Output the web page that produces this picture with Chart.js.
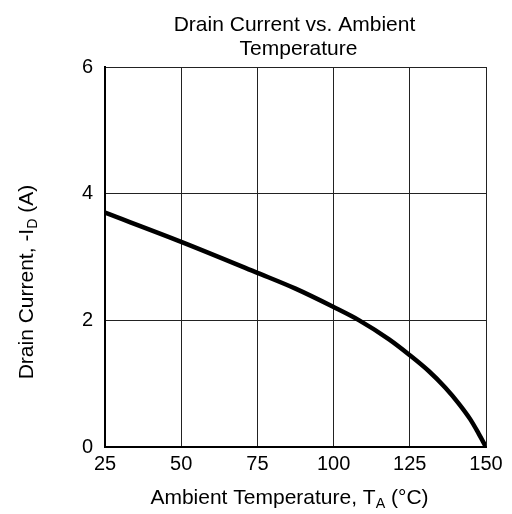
<!DOCTYPE html>
<html>
<head>
<meta charset="utf-8">
<script src="https://cdn.jsdelivr.net/npm/chart.js@4/dist/chart.umd.min.js"></script>
<style>
  html, body { margin: 0; padding: 0; background: #fff; }
  #wrap { width: 512px; height: 514px; }
</style>
</head>
<body>
<div id="wrap"><canvas id="chart" width="512" height="514"></canvas></div>
<script>
const temps = [25, 50, 75, 87.5, 100, 108.4, 118.2, 125, 131.2, 136.6, 141, 144.8, 147.5, 150];
const current = [3.70, 3.24, 2.75, 2.50, 2.21, 2.0, 1.70, 1.45, 1.20, 0.94, 0.69, 0.44, 0.22, 0];
const xTicks = [25, 50, 75, 100, 125, 150];
const yTicks = [0, 2, 4, 6];

const FONT = "'Liberation Sans', Arial, Helvetica, sans-serif";

// draws text made of pieces, some of them subscript
function drawRich(ctx, parts, size) {
    let total = 0;
    parts.forEach(p => {
        ctx.font = (p.sub ? size * 0.68 : size) + 'px ' + FONT;
        p.w = ctx.measureText(p.t).width;
        total += p.w;
    });
    let x = -total / 2;
    parts.forEach(p => {
        ctx.font = (p.sub ? size * 0.68 : size) + 'px ' + FONT;
        ctx.fillText(p.t, x, p.sub ? size * 0.18 : 0);
        x += p.w;
    });
}

const labelsPlugin = {
    id: 'labels',
    afterDraw(chart) {
        const ctx = chart.ctx;
        const area = chart.chartArea;
        const cx = (area.left + area.right) / 2;
        ctx.save();
        ctx.fillStyle = '#000';
        ctx.textAlign = 'left';
        ctx.textBaseline = 'alphabetic';

        // title
        ctx.save();
        ctx.translate(cx - 1, 31);
        drawRich(ctx, [{ t: 'Drain Current vs. Ambient' }], 21);
        ctx.restore();
        ctx.save();
        ctx.translate(cx + 3, 55);
        drawRich(ctx, [{ t: 'Temperature' }], 21);
        ctx.restore();

        // x axis title
        ctx.save();
        ctx.translate(cx - 6, 504);
        drawRich(ctx, [{ t: 'Ambient Temperature, T' }, { t: 'A', sub: true }, { t: ' (\u00B0C)' }], 21);
        ctx.restore();

        // y axis title
        ctx.save();
        ctx.translate(33, 282);
        ctx.rotate(-Math.PI / 2);
        drawRich(ctx, [{ t: 'Drain Current, -I' }, { t: 'D', sub: true }, { t: ' (A)' }], 21);
        ctx.restore();

        ctx.restore();
    }
};

new Chart(document.getElementById('chart'), {
    type: 'line',
    data: {
        datasets: [{
            data: temps.map((t, i) => ({ x: t, y: current[i] })),
            borderColor: '#000',
            borderWidth: 4.5,
            pointRadius: 0,
            fill: false,
            cubicInterpolationMode: 'monotone'
        }]
    },
    options: {
        responsive: false,
        animation: false,
        layout: { padding: { top: 67, right: 26, bottom: 0, left: 0 } },
        plugins: {
            legend: { display: false },
            title: { display: false },
            tooltip: { enabled: false }
        },
        scales: {
            x: {
                type: 'linear',
                min: 25,
                max: 150,
                afterBuildTicks: axis => { axis.ticks = xTicks.map(v => ({ value: v })); },
                afterFit: axis => { axis.height = 67; },
                ticks: {
                    color: '#000',
                    font: { family: FONT, size: 20 },
                    padding: 5,
                    maxRotation: 0
                },
                grid: { color: '#222', lineWidth: 1, drawTicks: false },
                border: { color: '#000', width: 2 }
            },
            y: {
                min: 0,
                max: 6,
                afterBuildTicks: axis => { axis.ticks = yTicks.map(v => ({ value: v })); },
                afterFit: axis => { axis.width = 105; },
                ticks: {
                    color: '#000',
                    font: { family: FONT, size: 20 },
                    padding: 12
                },
                grid: { color: '#222', lineWidth: 1, drawTicks: false },
                border: { color: '#000', width: 2 }
            }
        }
    },
    plugins: [labelsPlugin]
});
</script>
</body>
</html>
